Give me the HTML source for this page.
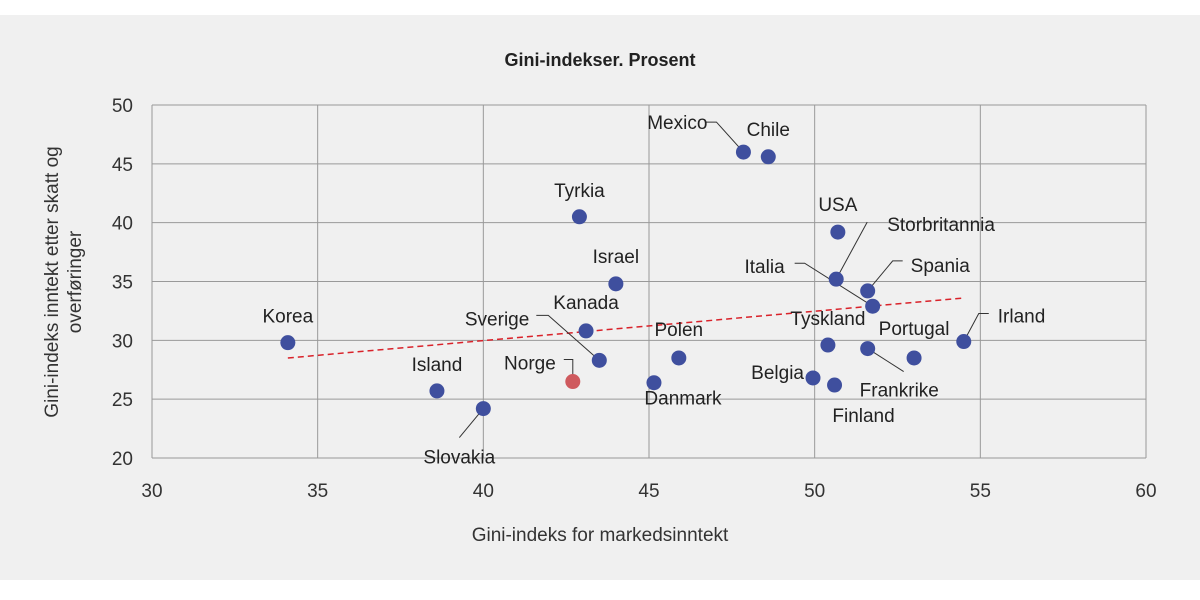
<!DOCTYPE html>
<html><head><meta charset="utf-8"><style>
body{margin:0;background:#fff;}
#wrap{width:1200px;height:595px;background:#fff;position:relative;}
svg{font-family:"Liberation Sans",sans-serif;}
</style></head><body>
<div id="wrap">
<svg id="c" width="1200" height="595"></svg>
</div>
<script>
const countries=["Korea","Island","Slovakia","Norge","Sverige","Kanada","Israel","Tyrkia","Polen","Danmark","Mexico","Chile","USA","Storbritannia","Spania","Italia","Tyskland","Portugal","Frankrike","Belgia","Finland","Irland"];
const marketGini=[34.1,38.6,40.0,42.7,43.5,43.1,44.0,42.9,45.9,45.15,47.85,48.6,50.7,50.65,51.6,51.75,50.4,53.0,51.6,49.95,50.6,54.5];
const disposableGini=[29.8,25.7,24.2,26.5,28.3,30.8,34.8,40.5,28.5,26.4,46.0,45.6,39.2,35.2,34.2,32.9,29.6,28.5,29.3,26.8,26.2,29.9];
const xTicks=[30,35,40,45,50,55,60];
const yTicks=[20,25,30,35,40,45,50];
const trendX=[34.1,54.5];
const trendY=[28.5,33.6];
const norgeIndex=3;
// layout (pixel offsets from each point) – not data
const labelDx=[0,0,-24,-17,-70,0,0,0,0,29,-36,0,0,51,43,-88,0,0,-8,-9,29,34];
const labelDy=[-20,-20,55,-12,-35,-22,-21,-20,-22,22,-23,-21,-21,-48,-19,-33,-20,-23,48,1,37,-19];
const labelAnchor=["middle","middle","middle","end","end","middle","middle","middle","middle","middle","end","middle","middle","start","start","end","middle","middle","start","end","middle","start"];
const leaderPts={2:[[-24,29]],3:[[-9,-22],[0,-22],[0,-7]],4:[[-63,-45],[-51,-45]],10:[[-38,-30],[-27,-30]],13:[[31,-57]],14:[[35,-30],[25,-30]],15:[[-78,-43],[-68,-43]],18:[[36,23]],21:[[25,-28],[15,-28]]};

const X=v=>152+(v-30)*(994/30);
const Y=v=>458-(v-20)*(353/30);
const svg=document.getElementById('c');
const NS="http://www.w3.org/2000/svg";
function mk(t,a){const e=document.createElementNS(NS,t);for(const k in a)e.setAttribute(k,a[k]);svg.appendChild(e);return e;}

let bg=mk('rect',{x:0,y:15,width:1200,height:565,fill:'#f0f0f0'});



let t=mk('text',{x:600,y:66,'text-anchor':'middle','font-size':18,'font-weight':'bold',fill:'#222'});t.textContent='Gini-indekser. Prosent';



xTicks.forEach(v=>{
 let l=mk('line',{x1:X(v),x2:X(v),y1:Y(50),y2:Y(20),stroke:'#999','stroke-width':1});
 
 
 let tx=mk('text',{x:X(v),y:497,'text-anchor':'middle','font-size':19,fill:'#333'});tx.textContent=v;
 
 
});
yTicks.forEach(v=>{
 let l=mk('line',{x1:X(30),x2:X(60),y1:Y(v),y2:Y(v),stroke:'#999','stroke-width':1});
 
 
 let tx=mk('text',{x:133,y:Y(v)+7,'text-anchor':'end','font-size':19,fill:'#333'});tx.textContent=v;
 
 
});
t=mk('text',{x:600,y:541,'text-anchor':'middle','font-size':19,fill:'#333'});t.textContent='Gini-indeks for markedsinntekt';


t=mk('text',{transform:'translate(58,282) rotate(-90)','text-anchor':'middle','font-size':19,fill:'#333'});


let s1=document.createElementNS(NS,'tspan');s1.setAttribute('x',0);s1.setAttribute('y',0);s1.textContent='Gini-indeks inntekt etter skatt og';t.appendChild(s1);
let s2=document.createElementNS(NS,'tspan');s2.setAttribute('x',0);s2.setAttribute('y',23);s2.textContent='overføringer';t.appendChild(s2);

let tl=mk('line',{x1:X(trendX[0]),y1:Y(trendY[0]),x2:X(trendX[1]),y2:Y(trendY[1]),stroke:'#d9222a','stroke-width':1.5,'stroke-dasharray':'6,4'});



countries.forEach((c,i)=>{
 const px=X(marketGini[i]),py=Y(disposableGini[i]);
 if(leaderPts[i]){
  const pts=leaderPts[i].map(p=>(px+p[0])+','+(py+p[1])).join(' ')+' '+px+','+py;
  let ln=mk('polyline',{points:pts,fill:'none',stroke:'#333','stroke-width':1});
  
  
 }
});
countries.forEach((c,i)=>{
 const px=X(marketGini[i]),py=Y(disposableGini[i]);
 let d=mk('circle',{cx:px,cy:py,r:7.5,fill:i===norgeIndex?'#cf5a5e':'#3f4f9e'});
 
 
 let lab=mk('text',{x:px+labelDx[i],y:py+labelDy[i],'text-anchor':labelAnchor[i],'font-size':19,fill:'#222'});lab.textContent=c;
 
 
});
</script>
</body></html>
